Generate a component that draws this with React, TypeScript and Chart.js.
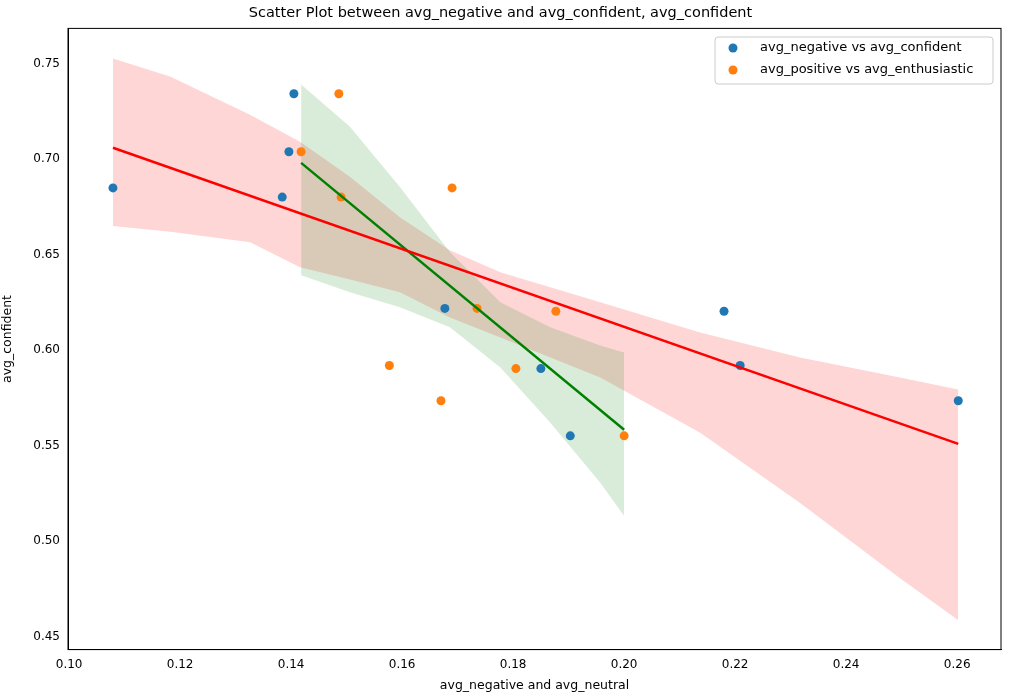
import React, { useEffect, useRef } from 'react';
import Chart from 'chart.js/auto';

const xTicks = [0.1, 0.12, 0.14, 0.16, 0.18, 0.2, 0.22, 0.24, 0.26];
const yTicks = [0.45, 0.5, 0.55, 0.6, 0.65, 0.7, 0.75];

const negX = [0.1079, 0.1405, 0.1396, 0.1384, 0.1677, 0.185, 0.1903, 0.218, 0.2209, 0.2602];
const negY = [0.6849, 0.7342, 0.7038, 0.6801, 0.6218, 0.5903, 0.5551, 0.6203, 0.5919, 0.5735];
const posX = [0.1418, 0.149, 0.1486, 0.1577, 0.167, 0.169, 0.1735, 0.1805, 0.1877, 0.2];
const posY = [0.7038, 0.6801, 0.7342, 0.5919, 0.5735, 0.6849, 0.6218, 0.5903, 0.6203, 0.5551];

const redLineX = [0.1079, 0.2602];
const redLineY = [0.7059, 0.5509];
const greenLineX = [0.1418, 0.2];
const greenLineY = [0.698, 0.5583];

const redBandX = [0.1079, 0.1182, 0.1326, 0.1416, 0.1506, 0.1596, 0.1686, 0.1777, 0.1957, 0.2137, 0.2317, 0.2497, 0.2602];
const redUpper = [0.7526, 0.7432, 0.7232, 0.709, 0.6907, 0.6696, 0.6523, 0.6408, 0.625, 0.6092, 0.5961, 0.5856, 0.5793];
const redLower = [0.6649, 0.662, 0.6565, 0.6434, 0.637, 0.6303, 0.6171, 0.6066, 0.5856, 0.5567, 0.52, 0.4806, 0.4585];

const greenBandX = [0.1418, 0.1506, 0.1596, 0.1686, 0.1777, 0.1867, 0.1957, 0.2];
const greenUpper = [0.739, 0.7169, 0.6854, 0.6513, 0.625, 0.6119, 0.6024, 0.5987];
const greenLower = [0.6392, 0.6303, 0.6224, 0.6119, 0.5909, 0.562, 0.5305, 0.5131];

const pts = (xs: number[], ys: number[]) => xs.map((x, i) => ({ x, y: ys[i] }));

const FONT = 'DejaVu Sans';

const framePlugin = {
  id: 'frame',
  afterDraw(chart: any) {
    const { ctx, chartArea: a } = chart;
    ctx.save();
    ctx.strokeStyle = '#000';
    ctx.lineWidth = 1;
    ctx.strokeRect(a.left, a.top, a.right - a.left, a.bottom - a.top);
    // legend
    const lx = 715, ly = 37, lw = 278, lh = 47;
    ctx.fillStyle = 'rgba(255,255,255,0.8)';
    ctx.strokeStyle = '#cccccc';
    ctx.beginPath();
    ctx.roundRect(lx, ly, lw, lh, 3);
    ctx.fill();
    ctx.stroke();
    const items = [
      ['avg_negative vs avg_confident', '#1f77b4'],
      ['avg_positive vs avg_enthusiastic', '#ff7f0e'],
    ];
    ctx.font = `13px "${FONT}"`;
    ctx.textBaseline = 'middle';
    items.forEach(([t, c], i) => {
      const y = ly + 11 + i * 22;
      ctx.fillStyle = c;
      ctx.beginPath();
      ctx.arc(lx + 18, y, 4.5, 0, Math.PI * 2);
      ctx.fill();
      ctx.fillStyle = '#000';
      ctx.fillText(t, lx + 45, y);
    });
    ctx.restore();
  },
};

export default function App() {
  const ref = useRef<HTMLCanvasElement | null>(null);
  useEffect(() => {
    if (!ref.current) return;
    const chart = new Chart(ref.current, {
      type: 'scatter',
      data: {
        datasets: [
          { type: 'line', data: pts(redBandX, redUpper), borderWidth: 0, pointRadius: 0, fill: false, order: 10 } as any,
          { type: 'line', data: pts(redBandX, redLower), borderWidth: 0, pointRadius: 0, fill: '-1', backgroundColor: 'rgba(255,0,0,0.16)', order: 10 } as any,
          { type: 'line', data: pts(greenBandX, greenUpper), borderWidth: 0, pointRadius: 0, fill: false, order: 9 } as any,
          { type: 'line', data: pts(greenBandX, greenLower), borderWidth: 0, pointRadius: 0, fill: '-1', backgroundColor: 'rgba(0,128,0,0.15)', order: 9 } as any,
          { label: 'neg', data: pts(negX, negY), backgroundColor: '#1f77b4', borderWidth: 0, pointRadius: 4.5, order: 5 },
          { label: 'pos', data: pts(posX, posY), backgroundColor: '#ff7f0e', borderWidth: 0, pointRadius: 4.5, order: 4 },
          { type: 'line', data: pts(redLineX, redLineY), borderColor: 'red', borderWidth: 2.5, pointRadius: 0, fill: false, order: 1 } as any,
          { type: 'line', data: pts(greenLineX, greenLineY), borderColor: 'green', borderWidth: 2.5, pointRadius: 0, fill: false, order: 1 } as any,
        ],
      },
      options: {
        animation: false,
        responsive: false,
        layout: { padding: { top: 0, right: 9, bottom: 0, left: 0 } },
        plugins: {
          legend: { display: false },
          tooltip: { enabled: false },
          title: {
            display: true,
            text: 'Scatter Plot between avg_negative and avg_confident, avg_confident',
            color: '#000',
            font: { family: FONT, size: 14.5, weight: 'normal' },
            padding: { top: 5, bottom: 6 },
          },
        },
        scales: {
          x: {
            type: 'linear',
            min: 0.0998,
            max: 0.2679,
            afterBuildTicks: (s: any) => { s.ticks = xTicks.map((v) => ({ value: v })); },
            grid: { display: false, drawTicks: true, tickLength: 5, tickColor: '#000' } as any,
            border: { color: '#000' },
            ticks: { color: '#000', font: { family: FONT, size: 12 }, callback: (v: any) => Number(v).toFixed(2), maxRotation: 0, padding: 3 },
            title: { display: true, text: 'avg_negative and avg_neutral', color: '#000', font: { family: FONT, size: 12.5 }, padding: { top: 3, bottom: 6 } },
          },
          y: {
            type: 'linear',
            min: 0.4432,
            max: 0.7684,
            afterBuildTicks: (s: any) => { s.ticks = yTicks.map((v) => ({ value: v })); },
            afterFit: (s: any) => { s.width = 68; },
            grid: { display: false, drawTicks: true, tickLength: 5, tickColor: '#000' } as any,
            border: { color: '#000' },
            ticks: { color: '#000', font: { family: FONT, size: 12 }, callback: (v: any) => Number(v).toFixed(2), padding: 3 },
            title: { display: true, text: 'avg_confident', color: '#000', font: { family: FONT, size: 12.5 }, padding: { top: 0, bottom: 4 } },
          },
        },
      },
      plugins: [framePlugin],
    });
    return () => chart.destroy();
  }, []);
  return (
    <div style={{ position: 'fixed', left: 0, top: 0, width: 1010, height: 699, background: '#fff' }}>
      <canvas ref={ref} width={1010} height={699} style={{ width: 1010, height: 699 }} />
    </div>
  );
}
